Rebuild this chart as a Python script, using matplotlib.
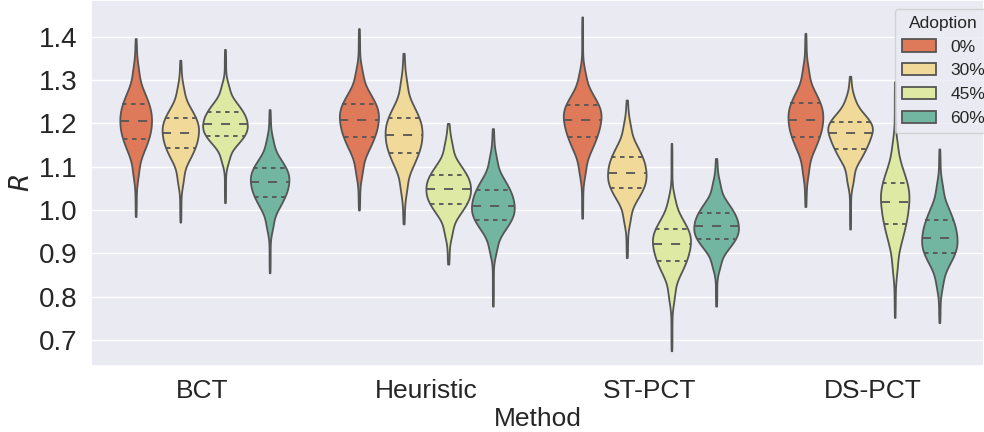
import numpy as np
import pandas as pd
import matplotlib
matplotlib.use("Agg")
import matplotlib.pyplot as plt
import seaborn as sns

methods = ["BCT", "Heuristic", "ST-PCT", "DS-PCT"]
adoption = ["0%", "30%", "45%", "60%"]

# quantile knots: min, p2, p10, q1, median, q3, p90, p98, max
probs = [0.0, 0.02, 0.10, 0.25, 0.50, 0.75, 0.90, 0.98, 1.0]

bct = [
    [0.985, 1.070, 1.129, 1.165, 1.205, 1.244, 1.279, 1.335, 1.396],
    [0.972, 1.055, 1.111, 1.143, 1.179, 1.212, 1.242, 1.290, 1.346],
    [1.017, 1.105, 1.147, 1.171, 1.198, 1.227, 1.253, 1.295, 1.371],
    [0.855, 0.950, 1.000, 1.031, 1.065, 1.096, 1.124, 1.170, 1.232],
]
heuristic = [
    [1.000, 1.075, 1.132, 1.168, 1.208, 1.244, 1.276, 1.330, 1.419],
    [0.968, 1.035, 1.095, 1.132, 1.173, 1.212, 1.247, 1.305, 1.362],
    [0.875, 0.935, 0.985, 1.015, 1.048, 1.081, 1.111, 1.160, 1.200],
    [0.778, 0.895, 0.947, 0.977, 1.010, 1.046, 1.078, 1.130, 1.188],
]
st_pct = [
    [0.981, 1.075, 1.132, 1.168, 1.208, 1.242, 1.273, 1.325, 1.446],
    [0.890, 0.965, 1.019, 1.050, 1.085, 1.122, 1.155, 1.205, 1.254],
    [0.675, 0.785, 0.847, 0.882, 0.921, 0.955, 0.986, 1.035, 1.154],
    [0.778, 0.860, 0.905, 0.932, 0.962, 0.994, 1.023, 1.070, 1.119],
]
ds_pct = [
    [1.008, 1.075, 1.133, 1.169, 1.209, 1.246, 1.279, 1.335, 1.408],
    [0.956, 1.055, 1.110, 1.142, 1.177, 1.204, 1.228, 1.265, 1.309],
    [0.752, 0.850, 0.921, 0.967, 1.018, 1.062, 1.102, 1.165, 1.296],
    [0.740, 0.815, 0.868, 0.900, 0.936, 0.976, 1.012, 1.067, 1.141],
]
knots = {"BCT": bct, "Heuristic": heuristic, "ST-PCT": st_pct, "DS-PCT": ds_pct}

# expand the quantile knots into an evenly spaced sample per violin
n = 400
p = np.linspace(0, 1, n)
rows = []
for m in methods:
    for a, q in zip(adoption, knots[m]):
        vals = np.interp(p, probs, q)
        for v in vals:
            rows.append((m, a, v))
df = pd.DataFrame(rows, columns=["Method", "Adoption", "R"])

sns.set_theme(style="darkgrid")
plt.rcParams["font.family"] = ["Liberation Sans", "DejaVu Sans"]
fig = plt.figure(figsize=(9.84, 4.32), dpi=100)
ax = fig.add_axes([0.0925, 0.153, 0.9075, 0.847])

# one call per method so the violin areas are scaled within each group
for i, m in enumerate(methods):
    sns.violinplot(data=df[df["Method"] == m], x="Method", y="R", hue="Adoption",
                   order=methods, hue_order=adoption, palette="Spectral",
                   inner="quartile", cut=0, common_norm=True,
                   linewidth=1.3, linecolor="#555555",
                   inner_kws=dict(linewidth=1.3), legend=(i == 0), ax=ax)

# longer dashes for median, short ones for the quartiles
for i, ln in enumerate(ax.lines):
    if i % 3 == 1:
        ln.set_dashes([5.0, 5.0])
    else:
        ln.set_dashes([2.5, 2.5])

ax.set_ylim(0.64, 1.485)
ax.set_xlim(-0.5, 3.5)
ax.set_yticks([0.7, 0.8, 0.9, 1.0, 1.1, 1.2, 1.3, 1.4])
ax.tick_params(axis="y", labelsize=20)
ax.tick_params(axis="x", labelsize=19)
ax.set_xlabel("Method", fontsize=19, labelpad=3)
ax.set_ylabel("$R$", fontsize=19)
sns.move_legend(ax, "upper left", bbox_to_anchor=(0.9, 0.976), borderaxespad=0,
                title="Adoption", fontsize=12.5, title_fontsize=12.5)
fig.savefig("out.png", dpi=100)
